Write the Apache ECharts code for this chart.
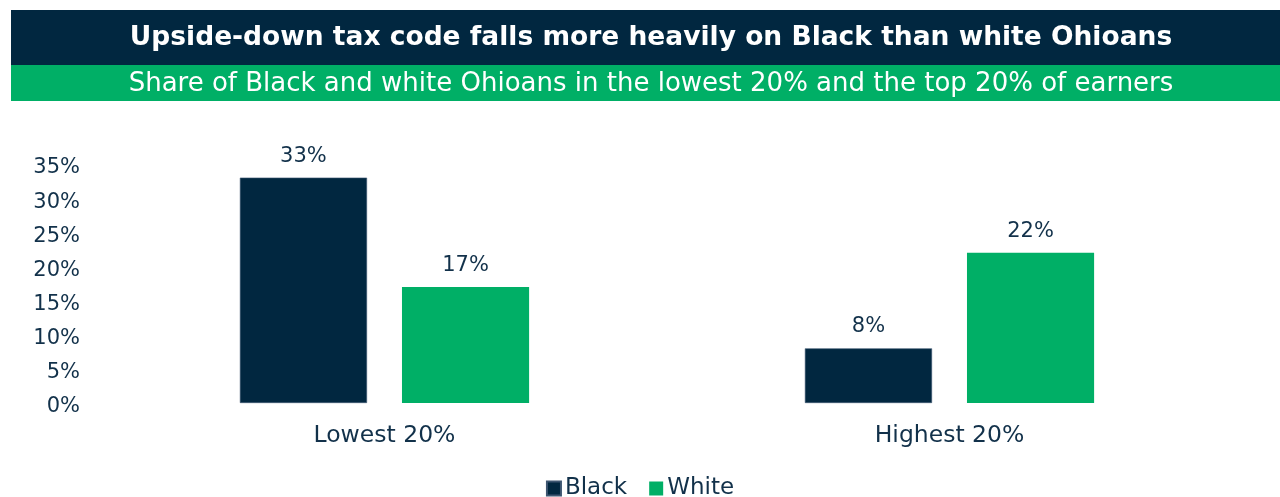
<!DOCTYPE html>
<html>
<head>
<meta charset="utf-8">
<script src="https://cdn.jsdelivr.net/npm/echarts@6/dist/echarts.min.js"></script>
<style>
  html, body { margin: 0; padding: 0; background: #fff; }
  #main { width: 1280px; height: 497px; }
</style>
</head>
<body>
<div id="main"></div>
<script>
// data
var categories = ['Lowest 20%', 'Highest 20%'];
var blackValues = [33, 8];
var whiteValues = [17, 22];

var navy = '#012740';
var green = '#00af66';
var textColor = '#12314a';
var font = 'DejaVu Sans';

var myChart = echarts.init(document.getElementById('main'));

var option = {
    backgroundColor: '#fff',
    textStyle: { fontFamily: font, color: textColor },
    graphic: [
        { type: 'rect', shape: { x: 11, y: 10, width: 1269, height: 55 }, style: { fill: navy } },
        { type: 'rect', shape: { x: 11, y: 65, width: 1269, height: 36 }, style: { fill: green } }
    ],
    title: [{
        text: 'Upside-down tax code falls more heavily on Black than white Ohioans',
        left: 646, top: 33, textAlign: 'center', textVerticalAlign: 'middle',
        textStyle: { color: '#fff', fontSize: 26.5, fontWeight: 'bold', fontFamily: font }
    }, {
        text: 'Share of Black and white Ohioans in the lowest 20% and the top 20% of earners',
        left: 646, top: 79, textAlign: 'center', textVerticalAlign: 'middle',
        textStyle: { color: '#fff', fontSize: 26, fontWeight: 'normal', fontFamily: font }
    }],
    legend: {
        data: ['Black', 'White'],
        bottom: -8,
        left: 'center',
        icon: 'rect',
        itemWidth: 14,
        itemHeight: 14,
        itemGap: 22,
        textStyle: { fontSize: 23, color: textColor, fontFamily: font, padding: [0, 0, 0, -1] }
    },
    grid: { left: 102, right: 48, top: 164, bottom: 94, containLabel: false },
    xAxis: {
        type: 'category',
        data: categories,
        axisLine: { show: false },
        axisTick: { show: false },
        axisLabel: { fontSize: 23.5, color: textColor, margin: 21 }
    },
    yAxis: {
        type: 'value',
        min: 0, max: 35, interval: 5,
        splitLine: { show: false },
        axisLine: { show: false },
        axisTick: { show: false },
        axisLabel: {
            fontSize: 21, color: textColor, margin: 22,
            formatter: '{v|{value}%}',
            rich: { v: { fontSize: 21, color: textColor, fontFamily: font, padding: [8, 0, 0, 0] } }
        }
    },
    series: [{
        name: 'Black',
        type: 'bar',
        data: blackValues,
        barWidth: '22.5%',
        barGap: '27.5%',
        itemStyle: { color: navy, borderColor: '#3d5570', borderWidth: 0.6 },
        label: { show: true, position: 'top', distance: 11, fontSize: 21, color: textColor, formatter: '{c}%' }
    }, {
        name: 'White',
        type: 'bar',
        data: whiteValues,
        barWidth: '22.5%',
        itemStyle: { color: green },
        label: { show: true, position: 'top', distance: 11, fontSize: 21, color: textColor, formatter: '{c}%' }
    }]
};

myChart.setOption(option);
</script>
</body>
</html>
